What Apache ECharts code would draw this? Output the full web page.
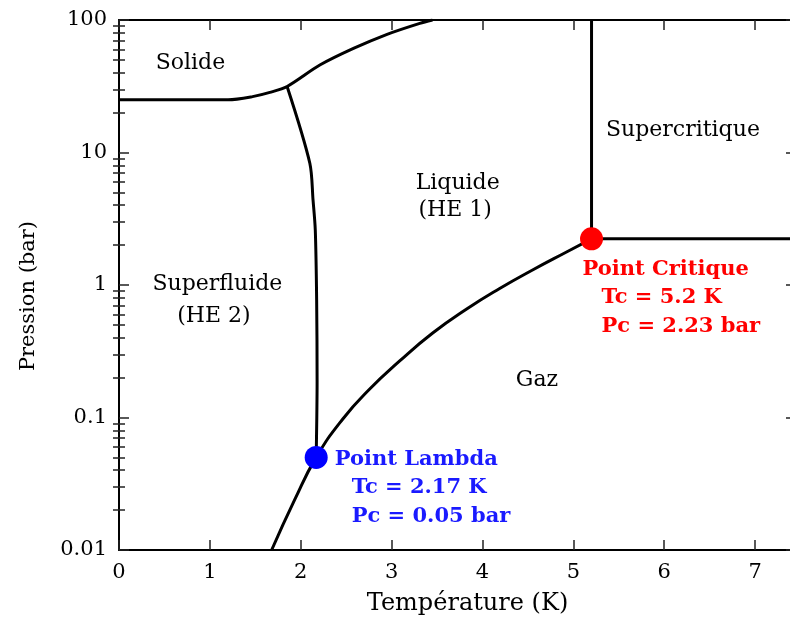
<!DOCTYPE html>
<html>
<head>
<meta charset="utf-8">
<script src="https://cdn.jsdelivr.net/npm/echarts@6/dist/echarts.min.js"></script>
<style>
  html, body { margin: 0; padding: 0; background: #fff; }
  #chart { width: 790px; height: 620px; }
</style>
</head>
<body>
<div id="chart"></div>
<script>
// courbes du diagramme de phase (T en K, P en bar)
var meltT = [0, 1.2, 1.47, 1.66, 1.85, 2.21, 2.58, 2.95, 3.31, 3.45];
var meltP = [25, 25, 26.4, 28.4, 31.5, 45.7, 61, 78, 94.4, 100];
var lambdaT = [1.85, 2.10, 2.135, 2.16, 2.175, 2.18, 2.17];
var lambdaP = [31.5, 8.3, 4.4, 2.6, 0.77, 0.19, 0.05];
var vaporT = [1.68, 1.935, 2.17, 2.463, 2.759, 3.089, 3.452, 3.826, 4.189, 4.551, 4.925, 5.2];
var vaporP = [0.01, 0.0241, 0.05, 0.0975, 0.164, 0.267, 0.434, 0.659, 0.941, 1.298, 1.775, 2.23];
var isothermT = [5.2, 5.2];
var isothermP = [2.23, 100];
var isobarT = [5.2, 7.45];
var isobarP = [2.23, 2.23];

var lambdaPoint = [2.17, 0.05];
var criticalPoint = [5.2, 2.23];

var regionText = ["Solide", "Liquide", "(HE 1)", "Supercritique", "Superfluide", "(HE 2)", "Gaz"];

var xTicks = [0, 1, 2, 3, 4, 5, 6, 7];
var yTicks = [0.01, 0.1, 1, 10, 100];
var yMinorTicks = [
  0.02, 0.03, 0.04, 0.05, 0.06, 0.07, 0.08, 0.09,
  0.2, 0.3, 0.4, 0.5, 0.6, 0.7, 0.8, 0.9,
  2, 3, 4, 5, 6, 7, 8, 9,
  20, 30, 40, 50, 60, 70, 80, 90
];

// où poser les noms des régions (coordonnées des données)
var regionAt = [[0.786, 47.3], [3.727, 5.89], [3.70, 3.68], [6.206, 14.8], [1.083, 1.02], [1.044, 0.578], [4.60, 0.192]];

var FONT = "DejaVu Serif";

function zip(xs, ys) {
  return xs.map(function (x, i) { return [x, ys[i]]; });
}

function curve(name, xs, ys, smooth) {
  return {
    name: name,
    type: "line",
    data: zip(xs, ys),
    smooth: smooth,
    symbol: "none",
    lineStyle: { color: "#000", width: 3 },
    z: 3,
  };
}

function pointLabel(color, title, lines, pos, indent) {
  var base = { fontFamily: FONT, fontSize: 21, fontWeight: "bold", color: color, lineHeight: 28.5 };
  return {
    show: true,
    position: pos,
    align: "left",
    verticalAlign: "top",
    formatter: "{h|" + title + "}\n{v|" + lines[0] + "}\n{v|" + lines[1] + "}",
    rich: {
      h: base,
      v: Object.assign({}, base, { padding: [0, 0, 0, indent] }),
    },
  };
}

var tickStyle = { color: "#222", width: 1.5 };
var lineStyle = { color: "#000", width: 2 };

function xAxisDef(pos, withLabels) {
  return {
    type: "value",
    position: pos,
    min: 0,
    max: 7.45,
    interval: 1,
    name: withLabels ? "Température (K)" : "",
    nameLocation: "middle",
    nameGap: 42,
    nameTextStyle: { fontFamily: FONT, fontSize: 24, color: "#000", padding: [0, 0, 0, 20] },
    axisLine: { show: true, onZero: false, lineStyle: lineStyle },
    axisTick: { show: true, inside: true, length: 10, lineStyle: tickStyle, customValues: xTicks },
    axisLabel: {
      show: withLabels,
      customValues: xTicks,
      margin: 12,
      fontFamily: FONT,
      fontSize: 21,
      color: "#000",
    },
    splitLine: { show: false },
  };
}

function yAxisDef(pos, withLabels) {
  return {
    type: "log",
    logBase: 10,
    position: pos,
    min: 0.01,
    max: 100,
    name: withLabels ? "Pression (bar)" : "",
    nameLocation: "middle",
    nameRotate: 90,
    nameGap: 80,
    nameTextStyle: { fontFamily: FONT, fontSize: 21, color: "#000", padding: [0, 22, 0, 0] },
    axisLine: { show: true, onZero: false, lineStyle: lineStyle },
    axisTick: { show: true, inside: true, length: 10, lineStyle: tickStyle, customValues: yTicks },
    axisLabel: {
      show: withLabels,
      customValues: yTicks,
      margin: 12,
      fontFamily: FONT,
      fontSize: 21,
      color: "#000",
      formatter: function (v) { return String(v); },
    },
    splitLine: { show: false },
  };
}

function yMinorDef(pos) {
  return {
    type: "log",
    logBase: 10,
    position: pos,
    min: 0.01,
    max: 100,
    axisLine: { show: false },
    axisTick: { show: true, inside: true, length: 6, lineStyle: tickStyle, customValues: yMinorTicks },
    axisLabel: { show: false },
    splitLine: { show: false },
  };
}

var chart = echarts.init(document.getElementById("chart"));

var option = {
  animation: false,
  backgroundColor: "#fff",
  grid: { left: 119, top: 20, width: 677, height: 530, outerBoundsMode: "none", containLabel: false },
  xAxis: [xAxisDef("bottom", true), xAxisDef("top", false)],
  yAxis: [yAxisDef("left", true), yMinorDef("left"), yAxisDef("right", false), yMinorDef("right")],
  series: [
    curve("fusion", meltT, meltP, 0.3),
    curve("lambda", lambdaT, lambdaP, 0.3),
    curve("vaporisation", vaporT, vaporP, 0.5),
    curve("isotherme critique", isothermT, isothermP, false),
    curve("isobare critique", isobarT, isobarP, false),
    {
      name: "Point Lambda",
      type: "scatter",
      data: [lambdaPoint],
      symbolSize: 23,
      itemStyle: { color: "#0000ff", opacity: 1 },
      label: pointLabel("#1a1aff", "Point Lambda",
        ["Tc = " + lambdaPoint[0] + " K", "Pc = " + lambdaPoint[1] + " bar"], [30, -1], 17),
      z: 5,
    },
    {
      name: "Point Critique",
      type: "scatter",
      data: [criticalPoint],
      symbolSize: 23,
      itemStyle: { color: "#ff0000", opacity: 1 },
      label: pointLabel("#ff0000", "Point Critique",
        ["Tc = " + criticalPoint[0] + " K", "Pc = " + criticalPoint[1] + " bar"], [2.5, 27.5], 19),
      z: 5,
    },
    {
      name: "régions",
      type: "scatter",
      symbolSize: 0,
      itemStyle: { opacity: 1 },
      data: regionText.map(function (t, i) { return { name: t, value: regionAt[i] }; }),
      label: {
        show: true,
        position: "inside",
        formatter: "{b}",
        fontFamily: FONT,
        fontSize: 22,
        color: "#000",
      },
      silent: true,
      z: 4,
    },
  ],
};

chart.setOption(option);
</script>
</body>
</html>
